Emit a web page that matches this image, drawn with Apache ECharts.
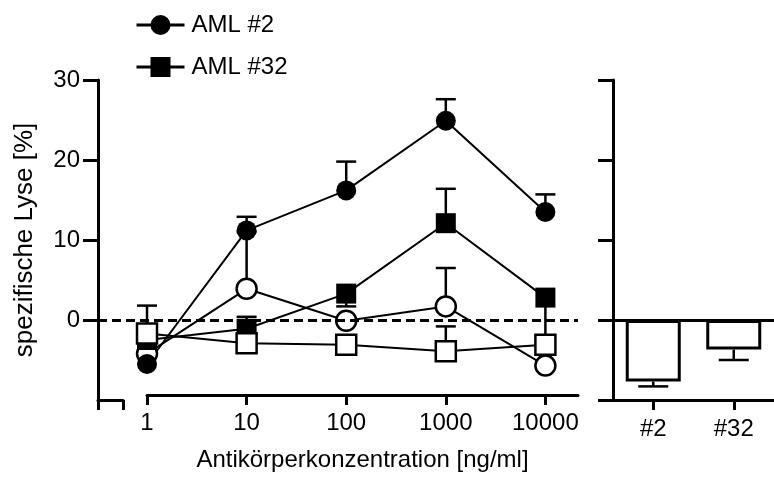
<!DOCTYPE html>
<html>
<head>
<meta charset="utf-8">
<script src="https://cdn.jsdelivr.net/npm/echarts@6/dist/echarts.min.js"></script>
<style>
html,body{margin:0;padding:0;background:#fff;}
#chart{width:774px;height:477px;}
</style>
</head>
<body>
<div id="chart"></div>
<script>
// ---- data ----
var concentrations = [1, 10, 100, 1000, 10000];
var aml2 = [-5.5, 11.2, 16.2, 24.9, 13.5];
var aml32 = [-2.5, -1.1, 3.3, 12.1, 2.8];
var aml2Ctrl = [-4.2, 3.9, -0.1, 1.7, -5.7];
var aml32Ctrl = [-1.7, -2.9, -3.1, -3.9, -3.1];
// error bar end values (one-sided), null = none visible
var aml2Err = [null, 12.9, 19.8, 27.6, 15.7];
var aml32Err = [null, 0.4, 1.7, 16.4, -2.5];
var aml2CtrlErr = [null, 11.0, null, 6.5, null];
var aml32CtrlErr = [1.8, null, null, -0.8, null];
var barCategories = ['#2', '#32'];
var barValues = [-7.7, -3.7];
var barErr = [-8.3, -5.0];
var yTicks = [0, 10, 20, 30];
var xTickLabels = [1, 10, 100, 1000, 10000];
var legendNames = ['AML #2', 'AML #32'];

var FONT = 'Arial, "Liberation Sans", sans-serif';
var BLACK = '#000';

function pairs(xs, ys) { return xs.map(function (x, i) { return [x, ys[i]]; }); }
function errData(xs, ys, es) {
  var out = [];
  xs.forEach(function (x, i) { if (es[i] !== null) out.push([x, ys[i], es[i]]); });
  return out;
}
function errRender(capHalf) {
  return function (params, api) {
    var x = api.value(0), y = api.value(1), e = api.value(2);
    var p0 = api.coord([x, y]);
    var p1 = api.coord([x, e]);
    var st = { stroke: BLACK, lineWidth: 2.5 };
    return {
      type: 'group',
      children: [
        { type: 'line', shape: { x1: p0[0], y1: p0[1], x2: p1[0], y2: p1[1] }, style: st },
        { type: 'line', shape: { x1: p1[0] - capHalf, y1: p1[1], x2: p1[0] + capHalf, y2: p1[1] }, style: st }
      ]
    };
  };
}
function errSeries(name, data, xi, yi, capHalf) {
  return {
    name: name, type: 'custom', xAxisIndex: xi, yAxisIndex: yi,
    renderItem: errRender(capHalf), data: data,
    encode: { x: 0, y: 1 }, silent: true
  };
}
function lineSeries(name, data, symbol, filled) {
  return {
    name: name, type: 'line', xAxisIndex: 0, yAxisIndex: 0,
    data: data, symbol: symbol, symbolSize: 20,
    lineStyle: { color: BLACK, width: 2 },
    itemStyle: { color: filled ? BLACK : '#fff', borderColor: BLACK, borderWidth: filled ? 0 : 2.5 },
    emphasis: { disabled: true }, silent: true
  };
}

var chart = echarts.init(document.getElementById('chart'), null, { renderer: 'canvas' });

var series = [];
series.push(errSeries('ctrl2err', errData(concentrations, aml2Ctrl, aml2CtrlErr), 0, 0, 10));
var c2 = lineSeries('AML #2 ctrl', pairs(concentrations, aml2Ctrl), 'circle', false);
c2.markLine = {
  silent: true, symbol: 'none', label: { show: false },
  lineStyle: { color: BLACK, width: 3, type: [9, 5] },
  data: [{ yAxis: 0 }]
};
series.push(c2);
series.push(errSeries('aml2err', errData(concentrations, aml2, aml2Err), 0, 0, 10));
series.push(lineSeries('AML #2', pairs(concentrations, aml2), 'circle', true));
series.push(errSeries('aml32err', errData(concentrations, aml32, aml32Err), 0, 0, 10));
series.push(lineSeries('AML #32', pairs(concentrations, aml32), 'rect', true));
series.push(errSeries('ctrl32err', errData(concentrations, aml32Ctrl, aml32CtrlErr), 0, 0, 10));
series.push(lineSeries('AML #32 ctrl', pairs(concentrations, aml32Ctrl), 'rect', false));

// bars
series.push({
  name: 'bars', type: 'bar', xAxisIndex: 3, yAxisIndex: 3,
  data: barValues, barWidth: 55,
  itemStyle: { color: '#fff', borderColor: BLACK, borderWidth: 3 },
  emphasis: { disabled: true }, silent: true,
  markLine: {
    silent: true, symbol: 'none', label: { show: false },
    lineStyle: { color: BLACK, width: 3, type: 'solid' },
    data: [{ yAxis: 0 }]
  }
});
series.push(errSeries('barerr', barCategories.map(function (c, i) { return [i, barValues[i], barErr[i]]; }), 3, 3, 15));

var axisLine = { show: true, onZero: false, lineStyle: { color: BLACK, width: 3 } };
var tickStyle = { color: BLACK, width: 3 };
var labelStyle = { color: BLACK, fontSize: 24, fontFamily: FONT };

var option = {
  animation: false,
  backgroundColor: '#fff',
  textStyle: { fontFamily: FONT },
  legend: {
    data: legendNames, orient: 'vertical', left: 130, top: 8,
    itemWidth: 48, itemHeight: 25, itemGap: 18,
    lineStyle: { width: 3 },
    textStyle: { color: BLACK, fontSize: 24, fontFamily: FONT, padding: [0, 0, 0, 2] },
    selectedMode: false
  },
  grid: [
    { left: 98, top: 80, width: 480, height: 320 },
    { left: 98, top: 80, width: 25, height: 320 },
    { left: 147, top: 80, width: 431, height: 320 },
    { left: 613, top: 80, width: 170, height: 320 }
  ],
  xAxis: [
    {
      // data axis for the concentration panel (includes the broken-off segment on the left)
      gridIndex: 0, type: 'log', logBase: 10, min: 0.322, max: 21250,
      show: false
    },
    {
      gridIndex: 1, type: 'value', min: 0, max: 1,
      axisLine: axisLine,
      axisTick: { show: true, length: 10, lineStyle: tickStyle, customValues: [0, 1] },
      axisLabel: { show: false }, splitLine: { show: false }
    },
    {
      gridIndex: 2, type: 'log', logBase: 10, min: 1, max: 21250,
      axisLine: axisLine,
      axisTick: { show: true, length: 10, lineStyle: tickStyle, customValues: xTickLabels },
      axisLabel: Object.assign({
        margin: 16, customValues: xTickLabels,
        formatter: function (v) { return String(Math.round(v)); }
      }, labelStyle),
      splitLine: { show: false },
      name: 'Antikörperkonzentration [ng/ml]', nameLocation: 'middle', nameGap: 53,
      nameTextStyle: { color: BLACK, fontSize: 24, fontFamily: FONT }
    },
    {
      gridIndex: 3, type: 'category', data: barCategories, boundaryGap: true,
      axisLine: axisLine,
      axisTick: { show: true, alignWithLabel: true, length: 10, lineStyle: tickStyle },
      axisLabel: Object.assign({ margin: 17 }, labelStyle),
      splitLine: { show: false }
    }
  ],
  yAxis: [
    {
      gridIndex: 0, type: 'value', min: -10, max: 30, interval: 10,
      axisLine: axisLine,
      axisTick: { show: true, length: 15, lineStyle: tickStyle, customValues: yTicks },
      axisLabel: Object.assign({ margin: 18, customValues: yTicks }, labelStyle),
      splitLine: { show: false },
      name: 'spezifische Lyse [%]', nameLocation: 'middle', nameGap: 60,
      nameTextStyle: { color: BLACK, fontSize: 26, fontFamily: FONT }
    },
    { gridIndex: 1, type: 'value', min: -10, max: 30, show: false },
    { gridIndex: 2, type: 'value', min: -10, max: 30, show: false },
    {
      gridIndex: 3, type: 'value', min: -10, max: 30, interval: 10,
      axisLine: axisLine,
      axisTick: { show: true, length: 15, lineStyle: tickStyle },
      axisLabel: { show: false }, splitLine: { show: false }
    }
  ],
  series: series
};
chart.setOption(option);
</script>
</body>
</html>
